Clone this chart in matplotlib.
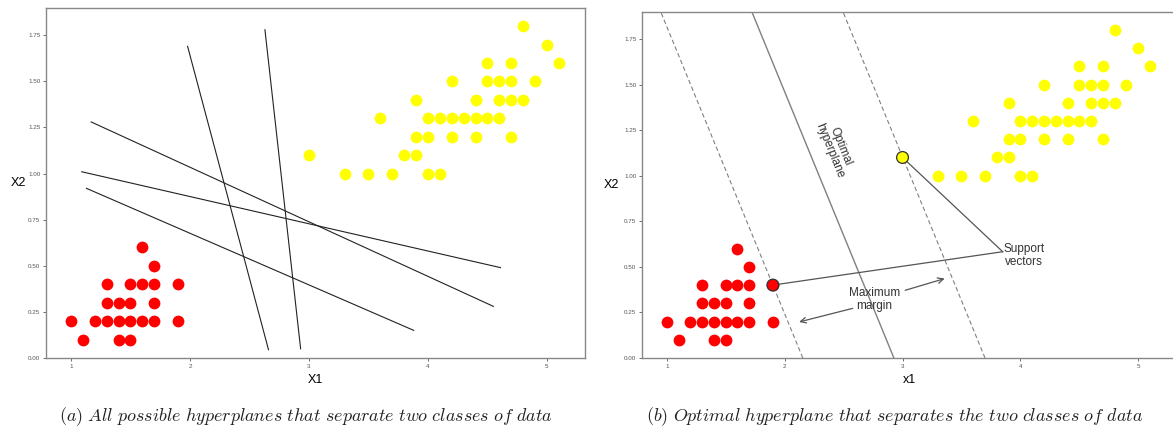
import matplotlib
matplotlib.use("Agg")
import matplotlib.pyplot as plt
import numpy as np

plt.rcParams['font.family'] = ['Liberation Sans', 'DejaVu Sans']
plt.rcParams['mathtext.fontset'] = 'cm'

# Class 0 (red) and class 1 (yellow) data points
red_x = [1.6, 1.7, 1.3, 1.5, 1.6, 1.7, 1.9, 1.3, 1.4, 1.5, 1.7,
         1.0, 1.2, 1.3, 1.4, 1.5, 1.6, 1.7, 1.9, 1.1, 1.4, 1.5]
red_y = [0.6, 0.5, 0.4, 0.4, 0.4, 0.4, 0.4, 0.3, 0.3, 0.3, 0.3,
         0.2, 0.2, 0.2, 0.2, 0.2, 0.2, 0.2, 0.2, 0.1, 0.1, 0.1]

yel_x = [4.8, 5.0, 4.5, 4.7, 5.1, 4.2, 4.5, 4.6, 4.7, 4.9,
         3.9, 4.4, 4.6, 4.7, 4.8, 3.6, 4.0, 4.1, 4.2, 4.3, 4.4, 4.5, 4.6,
         3.9, 4.0, 4.2, 4.4, 4.7, 3.0, 3.8, 3.9, 3.3, 3.5, 3.7, 4.0, 4.1]
yel_y = [1.8, 1.7, 1.6, 1.6, 1.6, 1.5, 1.5, 1.5, 1.5, 1.5,
         1.4, 1.4, 1.4, 1.4, 1.4, 1.3, 1.3, 1.3, 1.3, 1.3, 1.3, 1.3, 1.3,
         1.2, 1.2, 1.2, 1.2, 1.2, 1.1, 1.1, 1.1, 1.0, 1.0, 1.0, 1.0, 1.0]

# Candidate hyperplanes (panel a): start/end points
cand_x0 = [1.98, 2.63, 1.17, 1.09, 1.13]
cand_y0 = [1.69, 1.78, 1.28, 1.01, 0.92]
cand_x1 = [2.66, 2.93, 4.55, 4.61, 3.88]
cand_y1 = [0.045, 0.05, 0.28, 0.49, 0.15]

# Optimal hyperplane & margins (panel b): x-intercept at y=0, common slope
plane_x_at0 = [2.154, 2.927, 3.70]
plane_styles = ['--', '-', '--']
plane_dxdy = -1.0 / 1.576

support_x = [1.9, 3.0]
support_y = [0.4, 1.1]
support_c = ['red', 'yellow']

xticks = [1, 2, 3, 4, 5]
yticks = [0.0, 0.25, 0.5, 0.75, 1.0, 1.25, 1.5, 1.75]

W, H = 1173, 430
fig = plt.figure(figsize=(W / 100, H / 100), dpi=100)

def style_axes(ax):
    ax.set_xlim(0.79, 5.32)
    ax.set_ylim(0.0, 1.898)
    ax.set_xticks(xticks)
    ax.set_yticks(yticks)
    ax.set_yticklabels([f"{v:.2f}" for v in yticks])
    ax.tick_params(labelsize=4.5, length=2, width=0.6, colors='#555555', pad=2)
    for s in ax.spines.values():
        s.set_color('#888888')
        s.set_linewidth(1.0)

ms = 72

# Panel (a)
ax1 = fig.add_axes([46 / W, (H - 358) / H, (585 - 46) / W, (358 - 8) / H])
for xa, ya, xb, yb in zip(cand_x0, cand_y0, cand_x1, cand_y1):
    ax1.plot([xa, xb], [ya, yb], color='#222222', lw=0.8)
ax1.scatter(red_x, red_y, s=ms, c='red', linewidths=0, zorder=3)
ax1.scatter(yel_x, yel_y, s=ms, c='yellow', linewidths=0, zorder=3)
style_axes(ax1)
ax1.set_xlabel('X1', fontsize=9, labelpad=4)
ax1.set_ylabel('X2', fontsize=9, rotation=0, labelpad=7, va='center')

# Panel (b)
ax2 = fig.add_axes([642 / W, (H - 358) / H, (1176 - 642) / W, (358 - 12) / H])
yy = np.array([0.0, 2.0])
for c0, ls in zip(plane_x_at0, plane_styles):
    ax2.plot(c0 + plane_dxdy * yy, yy, color='#808080', lw=1.0 if ls == '-' else 0.8,
             ls=ls, dashes=(4, 2.5) if ls == '--' else (None, None))
ax2.scatter(red_x, red_y, s=ms, c='red', linewidths=0, zorder=3)
ax2.scatter(yel_x, yel_y, s=ms, c='yellow', linewidths=0, zorder=3)
ax2.scatter(support_x, support_y, s=ms, c=support_c, edgecolors='#333333', linewidths=0.9, zorder=4)
style_axes(ax2)
ax2.set_xlabel('x1', fontsize=9, labelpad=4)
ax2.set_ylabel('X2', fontsize=9, rotation=0, labelpad=9, va='center')

ax2.text(2.43, 1.15, 'Optimal\nhyperplane', rotation=-68, ha='center', va='center',
         rotation_mode='anchor', fontsize=8.5, color='#333333', linespacing=1.0)
ax2.text(4.03, 0.56, 'Support\nvectors', ha='center', va='center', fontsize=8.5,
         color='#333333', linespacing=1.1)
for sx, sy in zip(support_x, support_y):
    ax2.plot([sx, 3.85], [sy, 0.583], color='#555555', lw=0.9, zorder=3)
ax2.text(2.76, 0.32, 'Maximum\nmargin', ha='center', va='center', fontsize=8.5,
         color='#333333', linespacing=1.1)
ax2.annotate('', xy=(3.38, 0.44), xytext=(3.0, 0.367),
             arrowprops=dict(arrowstyle='->', color='#555555', lw=0.9))
ax2.annotate('', xy=(2.10, 0.194), xytext=(2.6, 0.276),
             arrowprops=dict(arrowstyle='->', color='#555555', lw=0.9))

cap_a = r'$(a)\ All\ possible\ hyperplanes\ that\ separate\ two\ classes\ of\ data$'
cap_b = r'$(b)\ Optimal\ hyperplane\ that\ separates\ the\ two\ classes\ of\ data$'
fig.text(306 / W, 1 - 417 / H, cap_a, ha='center', va='center', fontsize=13, color='#222222')
fig.text(895 / W, 1 - 417 / H, cap_b, ha='center', va='center', fontsize=13, color='#222222')

fig.savefig('out.png', dpi=100)
